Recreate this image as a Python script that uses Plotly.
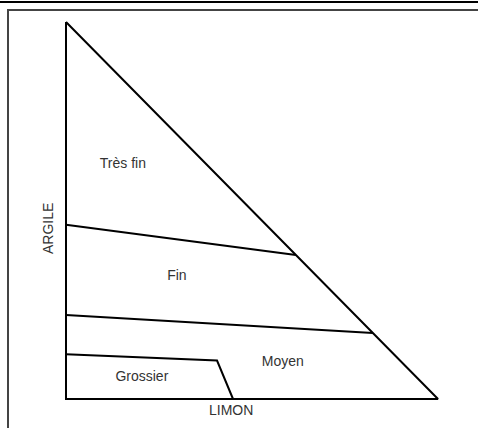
import plotly.graph_objects as go

# Data (coordinates in % : x = LIMON, y = ARGILE)
triangle_x = [0, 0, 100, 0]
triangle_y = [100, 0, 0, 100]
tres_fin_line_x = [0, 61.8]
tres_fin_line_y = [46.2, 38.2]
fin_line_x = [0, 82.5]
fin_line_y = [22.3, 17.5]
grossier_line_x = [0, 40.6, 44.9]
grossier_line_y = [11.9, 10.2, 0]

class_labels = ["Très fin", "Fin", "Moyen", "Grossier"]
class_label_x = [15.3, 29.8, 58.3, 20.4]
class_label_y = [62.1, 32.4, 9.8, 5.6]

axis_x_title = "LIMON"
axis_y_title = "ARGILE"

W, H = 478, 428
# pixel mapping: px = 66 + 3.72*x ; py = 399 - 3.77*y
x_range = [(0 - 66) / 3.72, (W - 66) / 3.72]
y_range = [(399 - H) / 3.77, 399 / 3.77]

fig = go.Figure()
line_style = dict(color="black", width=2)
for xs, ys in [(triangle_x, triangle_y), (tres_fin_line_x, tres_fin_line_y),
               (fin_line_x, fin_line_y), (grossier_line_x, grossier_line_y)]:
    fig.add_trace(go.Scatter(x=xs, y=ys, mode="lines", line=line_style,
                             hoverinfo="skip", showlegend=False))

fig.add_trace(go.Scatter(x=class_label_x, y=class_label_y, mode="text",
                         text=class_labels,
                         textfont=dict(family="Liberation Sans, Arial", size=14, color="#333333"),
                         hoverinfo="skip", showlegend=False))

annotations = [
    dict(x=(231 - 66) / 3.72, y=(399 - 410) / 3.77, xref="x", yref="y", text=axis_x_title,
         showarrow=False, font=dict(family="Liberation Sans, Arial", size=14, color="#333333")),
    dict(x=(48 - 66) / 3.72, y=(399 - 229) / 3.77, xref="x", yref="y", text=axis_y_title,
         textangle=-90, showarrow=False,
         font=dict(family="Liberation Sans, Arial", size=14, color="#333333")),
]

shapes = [
    dict(type="line", xref="paper", yref="paper", x0=0, x1=1, y0=1 - 2 / H, y1=1 - 2 / H,
         line=dict(color="black", width=2)),
    dict(type="path", xref="paper", yref="paper",
         path=f"M {8/W},0 L {8/W},{1-10/H} L 1,{1-10/H}",
         line=dict(color="#444444", width=2)),
]

fig.update_layout(
    width=W, height=H,
    margin=dict(l=0, r=0, t=0, b=0),
    paper_bgcolor="white", plot_bgcolor="white",
    xaxis=dict(range=x_range, visible=False, fixedrange=True),
    yaxis=dict(range=y_range, visible=False, fixedrange=True),
    annotations=annotations, shapes=shapes,
)

fig.write_html("out.html", config={"displayModeBar": False},
               post_script="document.body.style.margin='0';document.body.style.overflow='hidden';window.scrollTo(0,0);")
